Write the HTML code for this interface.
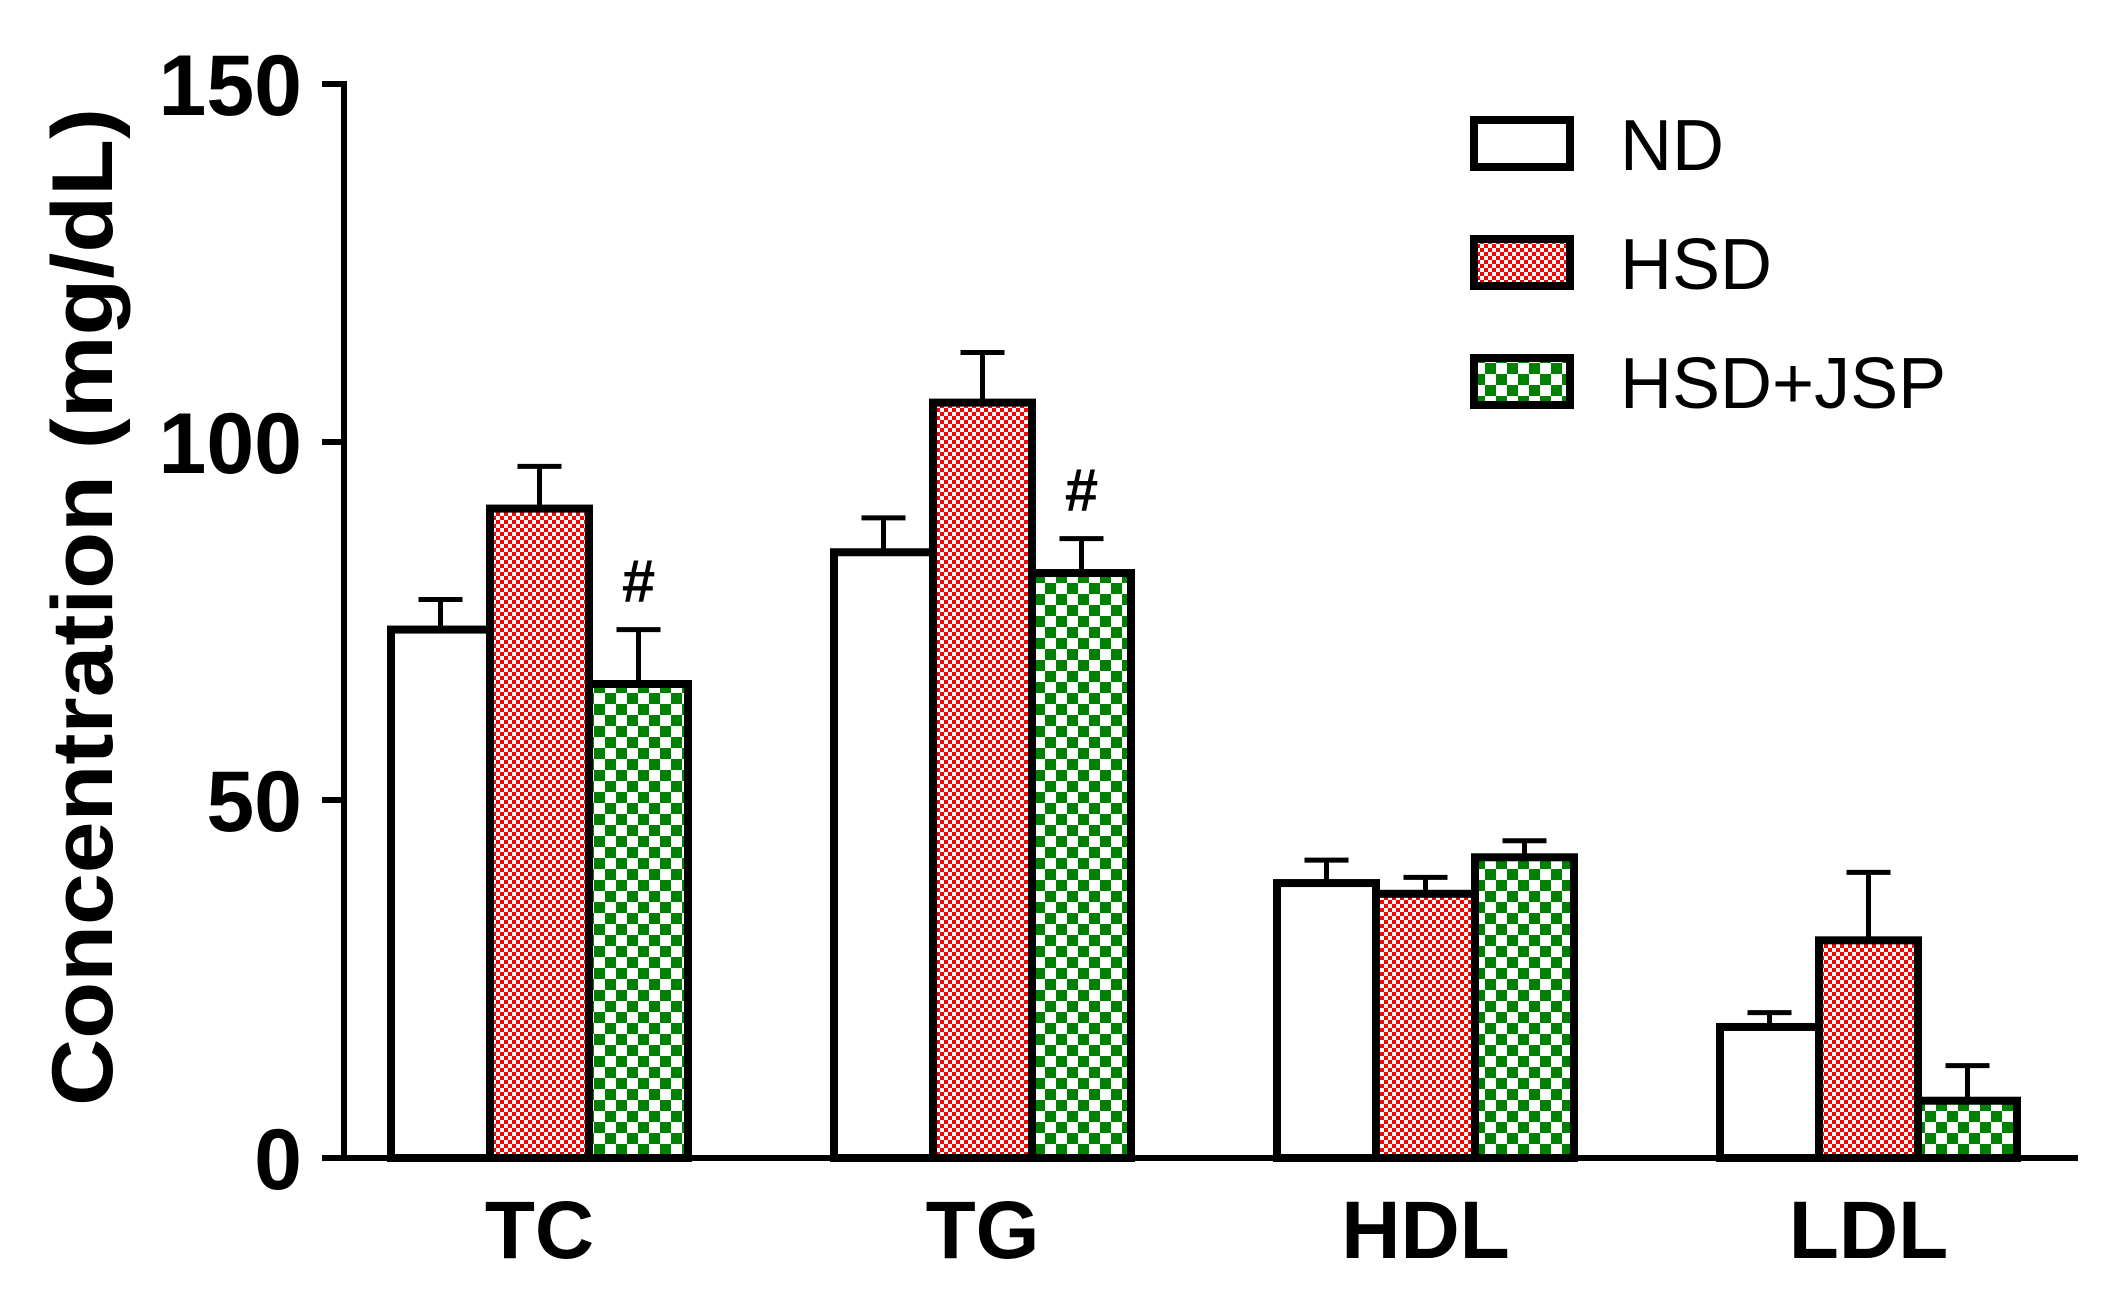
<!DOCTYPE html>
<html><head><meta charset="utf-8"><style>body{margin:0;background:#fff}svg{display:block}</style></head>
<body>
<svg id="chart" width="2105" height="1295" viewBox="0 0 2105 1295" xmlns="http://www.w3.org/2000/svg">
<defs>
<pattern id="pRed" width="8" height="8" patternUnits="userSpaceOnUse"><rect width="8" height="8" fill="#fff"/><rect width="4" height="4" fill="#f00"/><rect x="4" y="4" width="4" height="4" fill="#f00"/></pattern>
<pattern id="pGreen" width="22" height="22" patternUnits="userSpaceOnUse"><rect width="22" height="22" fill="#fff"/><rect width="11" height="11" fill="#008000"/><rect x="11" y="11" width="11" height="11" fill="#008000"/></pattern>
</defs>
<g id="plot"></g>
</svg>
<script>
const categories = ["TC","TG","HDL","LDL"];
const seriesNames = ["ND","HSD","HSD+JSP"];
const ndValues = [73.8, 84.6, 38.4, 18.3];
const hsdValues = [90.7, 105.5, 36.9, 30.4];
const jspValues = [66.2, 81.7, 42.0, 8.0];
const ndErr = [4.2, 4.8, 3.2, 2.0];
const hsdErr = [5.9, 7.0, 2.3, 9.5];
const jspErr = [7.6, 4.8, 2.3, 4.9];
const yTicks = [0, 50, 100, 150];
const marks = [["", "", "", ""], ["", "", "", ""], ["#", "#", "", ""]];

const NS = "http://www.w3.org/2000/svg";
const g = document.getElementById("plot");
const y0 = 1158, yTop = 84, yMax = 150;
const yS = v => y0 - v * (y0 - yTop) / yMax;
const groupX = i => 391 + i * 443;
const barW = 99;
const fills = ["#fff", "url(#pRed)", "url(#pGreen)"];
function el(tag, attrs, parent) {
  const e = document.createElementNS(NS, tag);
  for (const k in attrs) e.setAttribute(k, attrs[k]);
  (parent || g).appendChild(e);
  return e;
}
const yAxis = el("line", {x1: 344, y1: yTop - 3, x2: 344, y2: y0 + 3, stroke: "#000", "stroke-width": 6});


const xAxis = el("line", {x1: 341, y1: y0, x2: 2078, y2: y0, stroke: "#000", "stroke-width": 6});


yTicks.forEach(t => {
  const tk = el("line", {x1: 322, y1: yS(t), x2: 344, y2: yS(t), stroke: "#000", "stroke-width": 6});
  
  
  const lb = el("text", {x: 302, y: yS(t) + 31, "text-anchor": "end", "font-family": "Liberation Sans, sans-serif", "font-weight": "bold", "font-size": 86});
  lb.textContent = t;
  
  
});
const yt = el("text", {x: 0, y: 0, transform: "translate(112,607) rotate(-90)", "text-anchor": "middle", "font-family": "Liberation Sans, sans-serif", "font-weight": "bold", "font-size": 86, textLength: 998, lengthAdjust: "spacingAndGlyphs"});
yt.textContent = "Concentration (mg/dL)";



const vals = [ndValues, hsdValues, jspValues];
const errs = [ndErr, hsdErr, jspErr];
categories.forEach((c, i) => {
  for (let s = 0; s < 3; s++) {
    const x = groupX(i) + s * barW;
    const v = vals[s][i], e = errs[s][i];
    const cx = x + barW / 2;
    const eb = el("line", {x1: cx, y1: yS(v), x2: cx, y2: yS(v + e), stroke: "#000", "stroke-width": 5});
    
    
    const cap = el("line", {x1: cx - 22, y1: yS(v + e), x2: cx + 22, y2: yS(v + e), stroke: "#000", "stroke-width": 5});
    
    
    const r = el("rect", {x: x, y: yS(v), width: barW, height: y0 - yS(v), fill: fills[s], stroke: "#000", "stroke-width": 8});
    
    
    if (marks[s][i]) {
      const m = el("text", {x: cx, y: yS(v + e) - 28, "text-anchor": "middle", "font-family": "Liberation Sans, sans-serif", "font-weight": "bold", "font-size": 60});
      m.textContent = marks[s][i];
      
      
    }
  }
  const xl = el("text", {x: groupX(i) + 1.5 * barW, y: 1258, "text-anchor": "middle", "font-family": "Liberation Sans, sans-serif", "font-weight": "bold", "font-size": 82});
  xl.textContent = c;
  
  
});
seriesNames.forEach((n, s) => {
  const ly = 120 + s * 119;
  const lr = el("rect", {x: 1474, y: ly, width: 96, height: 47, fill: fills[s], stroke: "#000", "stroke-width": 8});
  
  
  const lt = el("text", {x: 1620, y: ly + 50, "font-family": "Liberation Sans, sans-serif", "font-size": 72});
  lt.textContent = n;
  
  
});
</script>
</body></html>
